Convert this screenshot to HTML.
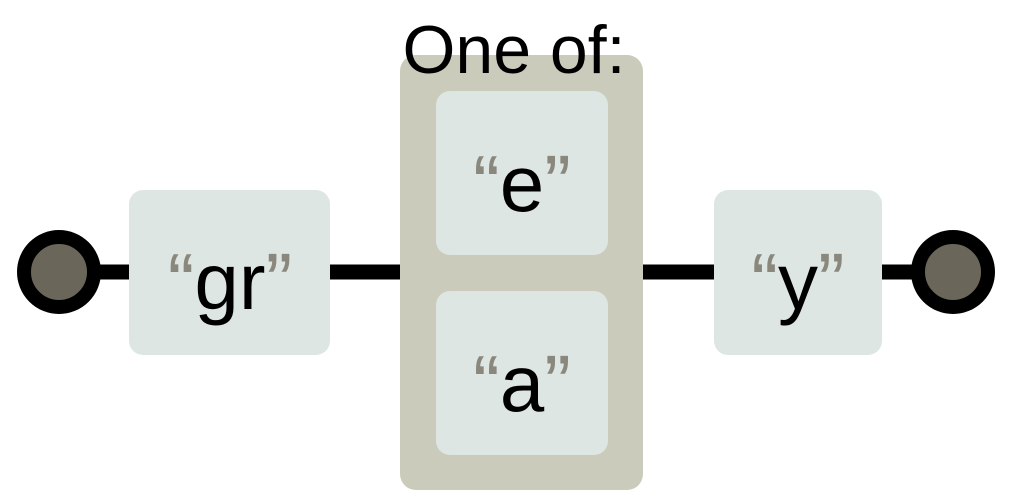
<!DOCTYPE html>
<html><head><meta charset="utf-8"><style>
html,body{margin:0;padding:0;background:#fff;width:1014px;height:504px;overflow:hidden}
text{font-family:"Liberation Sans",Arial,sans-serif}
</style></head><body>
<svg width="1014" height="504" viewBox="0 0 1014 504">
  <g stroke="#000" stroke-width="15">
    <line x1="95" y1="272" x2="130" y2="272"/>
    <line x1="330" y1="272" x2="401" y2="272"/>
    <line x1="642" y1="272" x2="715" y2="272"/>
    <line x1="881" y1="272" x2="918" y2="272"/>
  </g>
  <circle cx="59" cy="272" r="35" fill="#6b665a" stroke="#000" stroke-width="14"/>
  <circle cx="953" cy="272" r="35" fill="#6b665a" stroke="#000" stroke-width="14"/>

  <g>
    <rect x="129" y="190" width="201" height="165" rx="14" fill="#dee6e3"/>
    <text x="230" y="309" font-size="80" text-anchor="middle"><tspan fill="#8a877d">“</tspan><tspan fill="#000">gr</tspan><tspan fill="#8a877d">”</tspan></text>
  </g>

  <g>
    <rect x="400" y="55" width="243" height="435" rx="16" fill="#cbcbbb"/>
    <text x="514" y="73" font-size="68" text-anchor="middle" fill="#000">One of:</text>
    <g>
      <rect x="436" y="91" width="172" height="164" rx="14" fill="#dee6e3"/>
      <text x="522" y="211" font-size="80" text-anchor="middle"><tspan fill="#8a877d">“</tspan><tspan fill="#000">e</tspan><tspan fill="#8a877d">”</tspan></text>
    </g>
    <g>
      <rect x="436" y="291" width="172" height="164" rx="14" fill="#dee6e3"/>
      <text x="522" y="411" font-size="80" text-anchor="middle"><tspan fill="#8a877d">“</tspan><tspan fill="#000">a</tspan><tspan fill="#8a877d">”</tspan></text>
    </g>
  </g>

  <g>
    <rect x="714" y="190" width="168" height="165" rx="14" fill="#dee6e3"/>
    <text x="798" y="309" font-size="80" text-anchor="middle"><tspan fill="#8a877d">“</tspan><tspan fill="#000">y</tspan><tspan fill="#8a877d">”</tspan></text>
  </g>
</svg>
</body></html>
